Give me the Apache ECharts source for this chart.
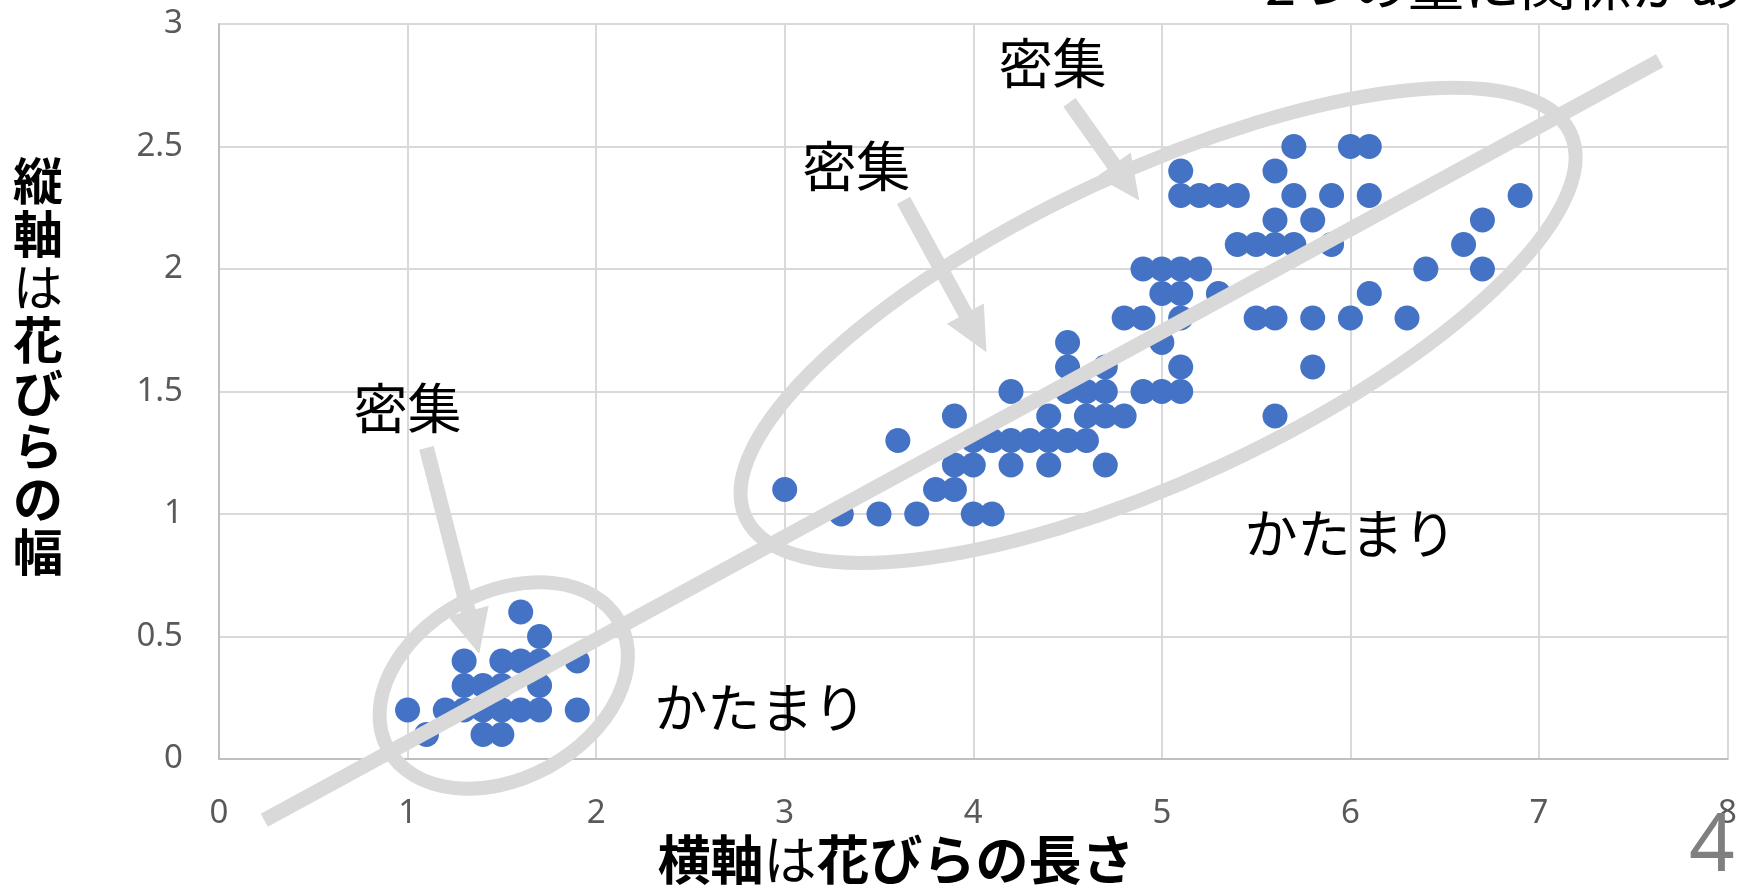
<!DOCTYPE html>
<html>
<head>
<meta charset="utf-8">
<script src="https://cdn.jsdelivr.net/npm/echarts@6/dist/echarts.min.js"></script>
<style>
  html, body { margin: 0; padding: 0; background: #ffffff; overflow: hidden; }
  #chart { width: 1740px; height: 888px; }
</style>
</head>
<body>
<div id="chart"></div>
<script>
// Iris petals: length (cm) on x, width (cm) on y — one entry per distinct point
const petalLength = [
  1.0, 1.1, 1.2, 1.3, 1.3, 1.3, 1.4, 1.4, 1.4, 1.5, 1.5, 1.5, 1.5,
  1.6, 1.6, 1.6, 1.7, 1.7, 1.7, 1.7, 1.9, 1.9,
  3.0, 3.3, 3.5, 3.6, 3.7, 3.8, 3.9, 3.9, 3.9, 4.0, 4.0, 4.0,
  4.1, 4.1, 4.2, 4.2, 4.2, 4.3, 4.4, 4.4, 4.4,
  4.5, 4.5, 4.5, 4.5, 4.6, 4.6, 4.6, 4.7, 4.7, 4.7, 4.7,
  4.8, 4.8, 4.9, 4.9, 4.9, 5.0, 5.0, 5.0, 5.0,
  5.1, 5.1, 5.1, 5.1, 5.1, 5.1, 5.1, 5.2, 5.2, 5.3, 5.3, 5.4, 5.4,
  5.5, 5.5, 5.6, 5.6, 5.6, 5.6, 5.6, 5.7, 5.7, 5.7, 5.8, 5.8, 5.8,
  5.9, 5.9, 6.0, 6.0, 6.1, 6.1, 6.1, 6.3, 6.4, 6.6, 6.7, 6.7, 6.9
];
const petalWidth = [
  0.2, 0.1, 0.2, 0.2, 0.3, 0.4, 0.1, 0.2, 0.3, 0.1, 0.2, 0.3, 0.4,
  0.2, 0.4, 0.6, 0.2, 0.3, 0.4, 0.5, 0.2, 0.4,
  1.1, 1.0, 1.0, 1.3, 1.0, 1.1, 1.1, 1.2, 1.4, 1.0, 1.2, 1.3,
  1.0, 1.3, 1.2, 1.3, 1.5, 1.3, 1.2, 1.3, 1.4,
  1.3, 1.5, 1.6, 1.7, 1.3, 1.4, 1.5, 1.2, 1.4, 1.5, 1.6,
  1.4, 1.8, 1.5, 1.8, 2.0, 1.5, 1.7, 1.9, 2.0,
  1.5, 1.6, 1.8, 1.9, 2.0, 2.3, 2.4, 2.0, 2.3, 1.9, 2.3, 2.1, 2.3,
  1.8, 2.1, 1.4, 1.8, 2.1, 2.2, 2.4, 2.1, 2.3, 2.5, 1.6, 1.8, 2.2,
  2.1, 2.3, 1.8, 2.5, 1.9, 2.3, 2.5, 1.8, 2.0, 2.1, 2.0, 2.2, 2.3
];

// Axis ranges and steps
const xTicks = [0, 1, 2, 3, 4, 5, 6, 7, 8];
const yTicks = [0, 0.5, 1, 1.5, 2, 2.5, 3];

// Text
const xTitleParts = ['横軸', 'は', '花びらの長さ'];
const yTitleChars = ['縦', '軸', 'は', '花', 'び', 'ら', 'の', '幅'];
const denseLabel = '密集';
const clusterLabel = 'かたまり';
const headline = '2つの量に関係がある';
const pageNumber = '4';

const points = petalLength.map((x, i) => [x, petalWidth[i]]);

const JP = '"Noto Sans CJK JP", "Noto Sans", sans-serif';
const GRAY = '#d9d9d9';

const chart = echarts.init(document.getElementById('chart'), null, { renderer: 'canvas' });

chart.setOption({
  animation: false,
  backgroundColor: '#ffffff',
  grid: { left: 219, right: 12, top: 24, bottom: 129, containLabel: false },
  xAxis: {
    type: 'value',
    min: xTicks[0], max: xTicks[xTicks.length - 1], interval: xTicks[1] - xTicks[0],
    axisLine: { show: true, lineStyle: { color: '#bfbfbf', width: 2 } },
    axisTick: { show: false },
    splitLine: { show: true, lineStyle: { color: GRAY, width: 2 } },
    axisLabel: { fontSize: 33, color: '#595959', fontFamily: '"Noto Sans", sans-serif', margin: 38 }
  },
  yAxis: {
    type: 'value',
    min: yTicks[0], max: yTicks[yTicks.length - 1], interval: yTicks[1] - yTicks[0],
    axisLine: { show: true, lineStyle: { color: '#bfbfbf', width: 2 } },
    axisTick: { show: false },
    splitLine: { show: true, lineStyle: { color: GRAY, width: 2 } },
    axisLabel: { fontSize: 33, color: '#595959', fontFamily: '"Noto Sans", sans-serif', margin: 36 }
  },
  series: [{
    type: 'scatter',
    data: points,
    symbol: 'circle',
    symbolSize: 25,
    itemStyle: { color: '#4472C4', opacity: 1 },
    z: 2
  }]
});

// Annotation layer, anchored in data space and placed through the grid's scales
const toPx = (x, y) => chart.convertToPixel({ gridIndex: 0 }, [x, y]);

function arrow(from, to, shaft, headW, headL) {
  const a = toPx(from[0], from[1]);
  const b = toPx(to[0], to[1]);
  const dx = b[0] - a[0], dy = b[1] - a[1];
  const len = Math.hypot(dx, dy);
  const ux = dx / len, uy = dy / len;
  const nx = -uy, ny = ux;
  const base = [b[0] - ux * headL, b[1] - uy * headL];
  const pts = [
    [a[0] + nx * shaft / 2, a[1] + ny * shaft / 2],
    [base[0] + nx * shaft / 2, base[1] + ny * shaft / 2],
    [base[0] + nx * headW / 2, base[1] + ny * headW / 2],
    [b[0], b[1]],
    [base[0] - nx * headW / 2, base[1] - ny * headW / 2],
    [base[0] - nx * shaft / 2, base[1] - ny * shaft / 2],
    [a[0] - nx * shaft / 2, a[1] - ny * shaft / 2]
  ];
  return { type: 'polygon', z: 100, shape: { points: pts }, style: { fill: GRAY } };
}

function ring(center, rx, ry, tiltDeg) {
  const c = toPx(center[0], center[1]);
  return {
    type: 'ellipse', z: 100, x: c[0], y: c[1],
    rotation: tiltDeg * Math.PI / 180,
    shape: { cx: 0, cy: 0, rx: rx, ry: ry },
    style: { fill: null, stroke: GRAY, lineWidth: 14 }
  };
}

function label(at, text, size) {
  const p = toPx(at[0], at[1]);
  return {
    type: 'text', z: 110, x: p[0], y: p[1],
    style: {
      text: text, fill: '#000000', fontSize: size, fontFamily: JP,
      align: 'center', verticalAlign: 'middle', textAlign: 'center', textVerticalAlign: 'middle'
    }
  };
}

const lineA = toPx(0.24, -0.25);
const lineB = toPx(7.64, 2.85);

const graphics = [
  { type: 'line', z: 100, shape: { x1: lineA[0], y1: lineA[1], x2: lineB[0], y2: lineB[1] },
    style: { stroke: GRAY, lineWidth: 15 } },
  ring([4.98, 1.77], 455, 154, 25),
  ring([1.51, 0.30], 132, 93, 28.6),
  arrow([1.10, 1.27], [1.38, 0.43], 15, 42, 44),
  arrow([3.63, 2.28], [4.07, 1.66], 15, 42, 44),
  arrow([4.51, 2.68], [4.88, 2.28], 15, 42, 44),
  label([1.00, 1.43], denseLabel, 54),
  label([3.38, 2.42], denseLabel, 54),
  label([4.42, 2.84], denseLabel, 54),
  label([2.87, 0.21], clusterLabel, 53),
  label([6.00, 0.92], clusterLabel, 53),
  {
    type: 'text', z: 110, x: 1265, y: -16,
    style: { text: headline, fill: '#000000', fontSize: 56, fontFamily: JP,
      align: 'left', verticalAlign: 'middle', textAlign: 'left', textVerticalAlign: 'middle' }
  },
  {
    type: 'text', z: 110, x: 1712, y: 848,
    style: { text: pageNumber, fill: '#7f7f7f', fontSize: 80, fontFamily: '"Noto Sans", sans-serif',
      align: 'center', verticalAlign: 'middle', textAlign: 'center', textVerticalAlign: 'middle' }
  },
  {
    type: 'text', z: 110, x: 896, y: 860,
    style: {
      text: '{b|' + xTitleParts[0] + '}{r|' + xTitleParts[1] + '}{b|' + xTitleParts[2] + '}',
      align: 'center', verticalAlign: 'middle', textAlign: 'center', textVerticalAlign: 'middle',
      rich: {
        b: { fontSize: 53, fontWeight: 'bold', fontFamily: JP, fill: '#000000', color: '#000000' },
        r: { fontSize: 53, fontWeight: 'normal', fontFamily: JP, fill: '#000000', color: '#000000' }
      }
    }
  },
  {
    type: 'text', z: 110, x: 38, y: 366,
    style: {
      text: yTitleChars.map((ch) => (ch === 'は' ? '{r|' : '{b|') + ch + '}').join('\n'),
      align: 'center', verticalAlign: 'middle', textAlign: 'center', textVerticalAlign: 'middle',
      rich: {
        b: { fontSize: 50, lineHeight: 53, fontWeight: 'bold', fontFamily: JP, fill: '#000000', color: '#000000' },
        r: { fontSize: 50, lineHeight: 53, fontWeight: 'normal', fontFamily: JP, fill: '#000000', color: '#000000' }
      }
    }
  }
];

chart.setOption({ graphic: { elements: graphics } });
</script>
</body>
</html>
